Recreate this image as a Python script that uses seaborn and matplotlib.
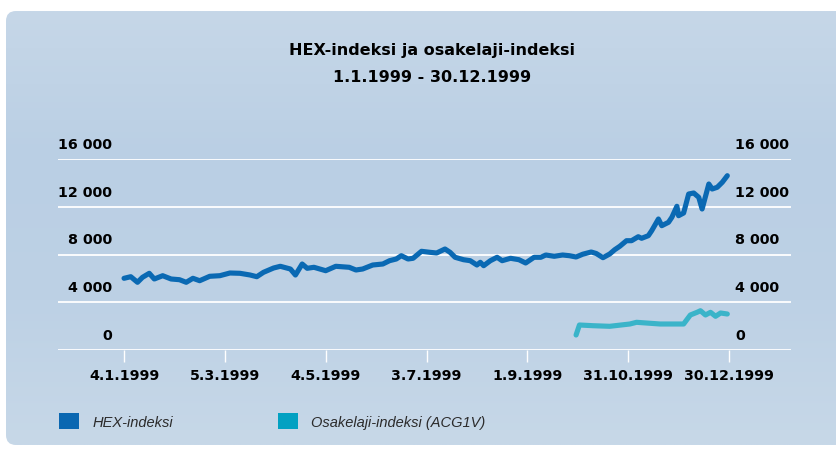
import numpy as np
import pandas as pd
import seaborn as sns
import matplotlib.pyplot as plt
from matplotlib.patches import FancyBboxPatch, Patch
from matplotlib.colors import LinearSegmentedColormap

sns.set_theme(style='white')
plt.rcParams['font.family'] = ['DejaVu Sans']
plt.rcParams['text.color'] = 'black'

title = 'HEX-indeksi ja osakelaji-indeksi'
subtitle = '1.1.1999 - 30.12.1999'

# days counted from 4.1.1999
start_date = '1999-01-04'
hex_days = [0, 4, 8, 11, 15, 18, 23, 28, 33, 37, 41, 45, 51, 57, 63, 69, 75, 79, 83, 89,
            93, 99, 102, 106, 109, 113, 120, 126, 134, 138, 142, 148, 154, 158, 162, 165,
            169, 172, 177, 182, 186, 191, 194, 197, 202, 206, 210, 212, 214, 218, 222, 225,
            230, 235, 239, 244, 248, 251, 256, 261, 265, 269, 273, 278, 281, 285, 289, 292,
            295, 299, 302, 306, 308, 312, 314, 318, 320, 324, 326, 329, 330, 333, 336, 339,
            342, 344, 348, 350, 353, 356, 359]
hex_values = [6006, 6140, 5671, 6090, 6425, 5948, 6224, 5948, 5889, 5671, 6006, 5805, 6174,
              6224, 6450, 6425, 6283, 6140, 6509, 6869, 7012, 6785, 6283, 7204, 6844, 6928,
              6643, 7012, 6928, 6702, 6785, 7120, 7204, 7481, 7623, 7900, 7623, 7682, 8268,
              8184, 8126, 8461, 8184, 7766, 7564, 7481, 7120, 7347, 7062, 7481, 7766, 7481,
              7682, 7564, 7288, 7766, 7766, 7958, 7849, 7958, 7900, 7791, 8025, 8209, 8084,
              7732, 8042, 8402, 8687, 9156, 9156, 9491, 9357, 9575, 9994, 10974, 10413, 10697,
              11116, 12038, 11250, 11476, 13068, 13152, 12792, 11812, 13906, 13487, 13630,
              14048, 14601]
acg_days = [269, 271, 279, 289, 301, 305, 319, 333, 337, 341, 343, 346, 349, 352, 355, 359]
acg_values = [1257, 2094, 2036, 1985, 2178, 2320, 2178, 2178, 2932, 3158, 3292, 2932, 3158,
              2823, 3099, 3016]

series_names = ['HEX-indeksi', 'Osakelaji-indeksi (ACG1V)']
line_colors = ['#0a69b3', '#3ab4c9']
legend_colors = ['#0a67b1', '#02a1c2']

tick_labels = ['4.1.1999', '5.3.1999', '4.5.1999', '3.7.1999', '1.9.1999', '31.10.1999', '30.12.1999']
y_ticks = [0, 4000, 8000, 12000, 16000]
y_tick_labels = ['0', '4 000', '8 000', '12 000', '16 000']

start = pd.Timestamp(start_date)
df = pd.concat([
    pd.DataFrame({'date': start + pd.to_timedelta(hex_days, unit='D'),
                  'value': hex_values, 'series': series_names[0]}),
    pd.DataFrame({'date': start + pd.to_timedelta(acg_days, unit='D'),
                  'value': acg_values, 'series': series_names[1]}),
])

W, H = 836, 452
fig = plt.figure(figsize=(W / 100, H / 100), dpi=100)
fig.patch.set_facecolor('white')

# background panel
bg = fig.add_axes([0, 0, 1, 1], zorder=-10)
bg.set_xlim(0, W)
bg.set_ylim(H, 0)
bg.axis('off')
cmap = LinearSegmentedColormap.from_list('panel', ['#c6d7e8', '#bacfe4', '#bdd1e5', '#c7d8e8'])
grad = np.linspace(0, 1, 256).reshape(-1, 1) * np.ones((1, 4))
panel = FancyBboxPatch((6, 12), W + 20, 434, boxstyle='round,pad=0,rounding_size=10',
                       facecolor='none', edgecolor='none', transform=bg.transData)
bg.add_patch(panel)
im = bg.imshow(grad, cmap=cmap, aspect='auto', extent=(6, W + 20, 446, 12))
im.set_clip_path(panel)

ax = fig.add_axes([58 / W, 1 - 351 / H, 733 / W, 191 / H])
ax.patch.set_alpha(0)
sns.lineplot(data=df, x='date', y='value', hue='series',
             palette=dict(zip(series_names, line_colors)), linewidth=3.7,
             legend=False, ax=ax)

ax.set_xlim(start - pd.Timedelta(days=39.3), start + pd.Timedelta(days=396.9))
ax.set_ylim(0, 16000)
ax.set_xlabel('')
ax.set_ylabel('')
for s in ax.spines.values():
    s.set_visible(False)

ax.set_yticks(y_ticks)
ax.yaxis.grid(True, color='white', linewidth=1.3)
ax.xaxis.grid(False)
ax.set_axisbelow(True)
ax.tick_params(axis='y', length=0, labelleft=False, labelright=False)

tick_dates = pd.to_datetime(tick_labels, format='%d.%m.%Y')
ax.set_xticks(tick_dates)
ax.set_xticklabels(tick_labels, fontweight='bold', fontsize=10.3, color='black')
ax.tick_params(axis='x', bottom=True, direction='out', length=8.6, width=1,
               color='white', pad=4.5)

ytrans = ax.get_yaxis_transform()
for v, lab in zip(y_ticks, y_tick_labels):
    ax.annotate(lab, xy=(0.0737, v), xycoords=ytrans, xytext=(0, 10.8),
                textcoords='offset points', ha='right', va='center',
                fontweight='bold', fontsize=10.3, color='black')
    ax.annotate(lab, xy=(0.9236, v), xycoords=ytrans, xytext=(0, 10.8),
                textcoords='offset points', ha='left', va='center',
                fontweight='bold', fontsize=10.3, color='black')

fig.text(432 / W, 1 - 50 / H, title, ha='center', va='center',
         fontweight='bold', fontsize=11.5, color='black')
fig.text(432 / W, 1 - 77 / H, subtitle, ha='center', va='center',
         fontweight='bold', fontsize=11.5, color='black')

handles = [Patch(facecolor=c, edgecolor='none') for c in legend_colors]
fig.legend(handles, series_names, loc='center left', bbox_to_anchor=(59 / W, 1 - 422 / H),
           ncol=2, frameon=False, handlelength=1.37, handleheight=1.37,
           handletextpad=0.9, columnspacing=7.2, borderpad=0, borderaxespad=0,
           prop=dict(family='Liberation Sans', style='italic', size=10.5),
           labelcolor='#2b2b2b')

fig.savefig('out.png', dpi=100)
